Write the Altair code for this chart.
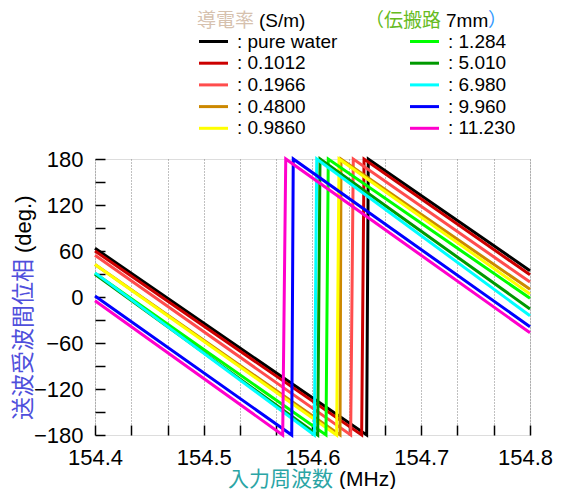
import altair as alt
import pandas as pd

# ---- data ----
series = ["pure water", "0.1012", "0.1966", "0.4800", "0.9860",
          "1.284", "5.010", "6.980", "9.960", "11.230"]
colors = ["#000000", "#cc0000", "#ff4d4d", "#cc8800", "#ffff00",
          "#00ff00", "#009900", "#00ffff", "#0000ff", "#ff00cc"]
phase_start = [63.5, 60.0, 54.5, 42.5, 42.5, 31.0, 29.5, 31.5, 1.3, -5.0]     # deg at 154.4 MHz
wrap_low = [154.6498, 154.6452, 154.6351, 154.6253, 154.6222,
            154.6124, 154.6048, 154.6017, 154.5809, 154.5726]                  # reaches -180
wrap_high = [154.6513, 154.6474, 154.6375, 154.6262, 154.6244,
             154.6145, 154.6069, 154.6039, 154.5823, 154.5754]                 # restarts at 180
phase_end = [34.3, 29.0, 19.5, 10.0, 4.0, -1.7, -15.6, -24.4, -38.7, -46.6]   # deg at 154.8 MHz
f_start, f_end = 154.4, 154.8
x_ticks = [154.4, 154.43333, 154.46667, 154.5, 154.53333, 154.56667, 154.6,
           154.63333, 154.66667, 154.7, 154.73333, 154.76667, 154.8]
y_ticks = [-180, -150, -120, -90, -60, -30, 0, 30, 60, 90, 120, 150, 180]

W, H = 435, 276
JP = "Noto Sans CJK JP"
EN = "Liberation Sans"

rows = []
for i, s in enumerate(series):
    pts = [(f_start, phase_start[i]), (wrap_low[i], -180), (wrap_high[i], 180), (f_end, phase_end[i])]
    for k, (f, p) in enumerate(pts):
        rows.append({"series": s, "idx": i, "k": k, "f": f, "p": p, "color": colors[i]})
df = pd.DataFrame(rows)

xscale = alt.Scale(domain=[f_start, f_end], nice=False, zero=False)
yscale = alt.Scale(domain=[-180, 180], nice=False, zero=False)

lines = alt.Chart(df).mark_line(strokeWidth=3).encode(
    x=alt.X("f:Q", scale=xscale, axis=alt.Axis(
        orient="bottom", values=x_ticks,
        labelExpr="abs(datum.value*10 - round(datum.value*10)) < 0.01 ? format(datum.value, '.1f') : ''",
        labelOffset={"condition": {"test": "datum.value > 154.79", "value": -5}, "value": 0},
        ticks=False, tickSize=0, domain=False, grid=True, gridDash=[1, 2], gridColor="#808080",
        gridWidth=1, labelFontSize=22, labelFont=EN, labelColor="black", labelPadding=12,
        labelFlush=False, labelOverlap=False, title=None)),
    y=alt.Y("p:Q", scale=yscale, axis=alt.Axis(
        orient="left", values=y_ticks,
        labelExpr="datum.value % 60 == 0 ? datum.label : ''",
        ticks=False, tickSize=0, domain=False, grid=False, labelFontSize=22, labelFont=EN,
        labelColor="black", labelPadding=12, labelFlush=False, labelOverlap=False, title=None)),
    color=alt.Color("color:N", scale=None),
    detail="series:N",
    order="k:Q",
)

tick_layer = alt.Chart(df).mark_line(strokeOpacity=0).encode(
    x=alt.X("f:Q", scale=xscale, axis=alt.Axis(
        orient="top", offset=-H, values=x_ticks, labels=False, ticks=True, tickSize=10,
        tickWidth=1.5, tickColor="black", domain=False, grid=False, title=None)),
    y=alt.Y("p:Q", scale=yscale, axis=alt.Axis(
        orient="right", offset=-W, values=y_ticks, labels=False, ticks=True, tickSize=10,
        tickWidth=1.5, tickColor="black", domain=False, grid=False, title=None)),
    detail="series:N",
)

# ---- legend ----
leg = pd.DataFrame({"label": [": " + s for s in series], "color": colors, "i": list(range(len(series)))})
leg["col"] = leg["i"] // 5
leg["row"] = leg["i"] % 5
leg["x1"] = 104 + leg["col"] * 211
leg["x2"] = leg["x1"] + 29
leg["tx"] = leg["x1"] + 38
leg["ly"] = -117.5 + leg["row"] * 21.7

leg_rules = alt.Chart(leg).mark_rule(strokeWidth=3).encode(
    x=alt.X("x1:Q", scale=None, axis=None), x2="x2:Q",
    y=alt.Y("ly:Q", scale=None, axis=None),
    color=alt.Color("color:N", scale=None),
)
leg_text = alt.Chart(leg).mark_text(align="left", baseline="middle", fontSize=19, font=EN, color="black").encode(
    x=alt.X("tx:Q", scale=None, axis=None),
    y=alt.Y("ly:Q", scale=None, axis=None),
    text="label:N",
)


def label(text, x, y, color, size, font, align="left", angle=0):
    return alt.Chart(pd.DataFrame({"t": [text]})).mark_text(
        align=align, baseline="middle", fontSize=size, font=font, color=color, angle=angle
    ).encode(x=alt.value(x), y=alt.value(y), text="t:N")


texts = [
    label("導電率", 102, -138, "#d6c1ae", 19, JP),
    label("(S/m)", 164, -138, "black", 19, EN),
    label("（伝搬路", 270, -138, "#66bb22", 19, JP),
    label("7mm", 351, -138, "black", 19, EN),
    label("）", 393, -138, "#3399ff", 19, JP),
    label("入力周波数", 238, 321, "#2ba5a5", 21, JP, align="right"),
    label("(MHz)", 244, 321, "black", 21, EN),
    label("送波受波間位相", -71, 261, "#4f4fdc", 23, JP, angle=270),
    label("(deg.)", -71, 94, "black", 22, EN, angle=270),
]

chart = alt.layer(lines, tick_layer, leg_rules, leg_text, *texts).resolve_axis(
    x="independent", y="independent"
).properties(
    width=W, height=H,
    autosize=alt.AutoSizeParams(type="none"),
    padding={"left": 87, "top": 151, "right": 23, "bottom": 54},
).configure_view(stroke="black", strokeWidth=2).configure(background="white")

chart.save("out.html", embed_options={"renderer": "svg", "actions": False})
